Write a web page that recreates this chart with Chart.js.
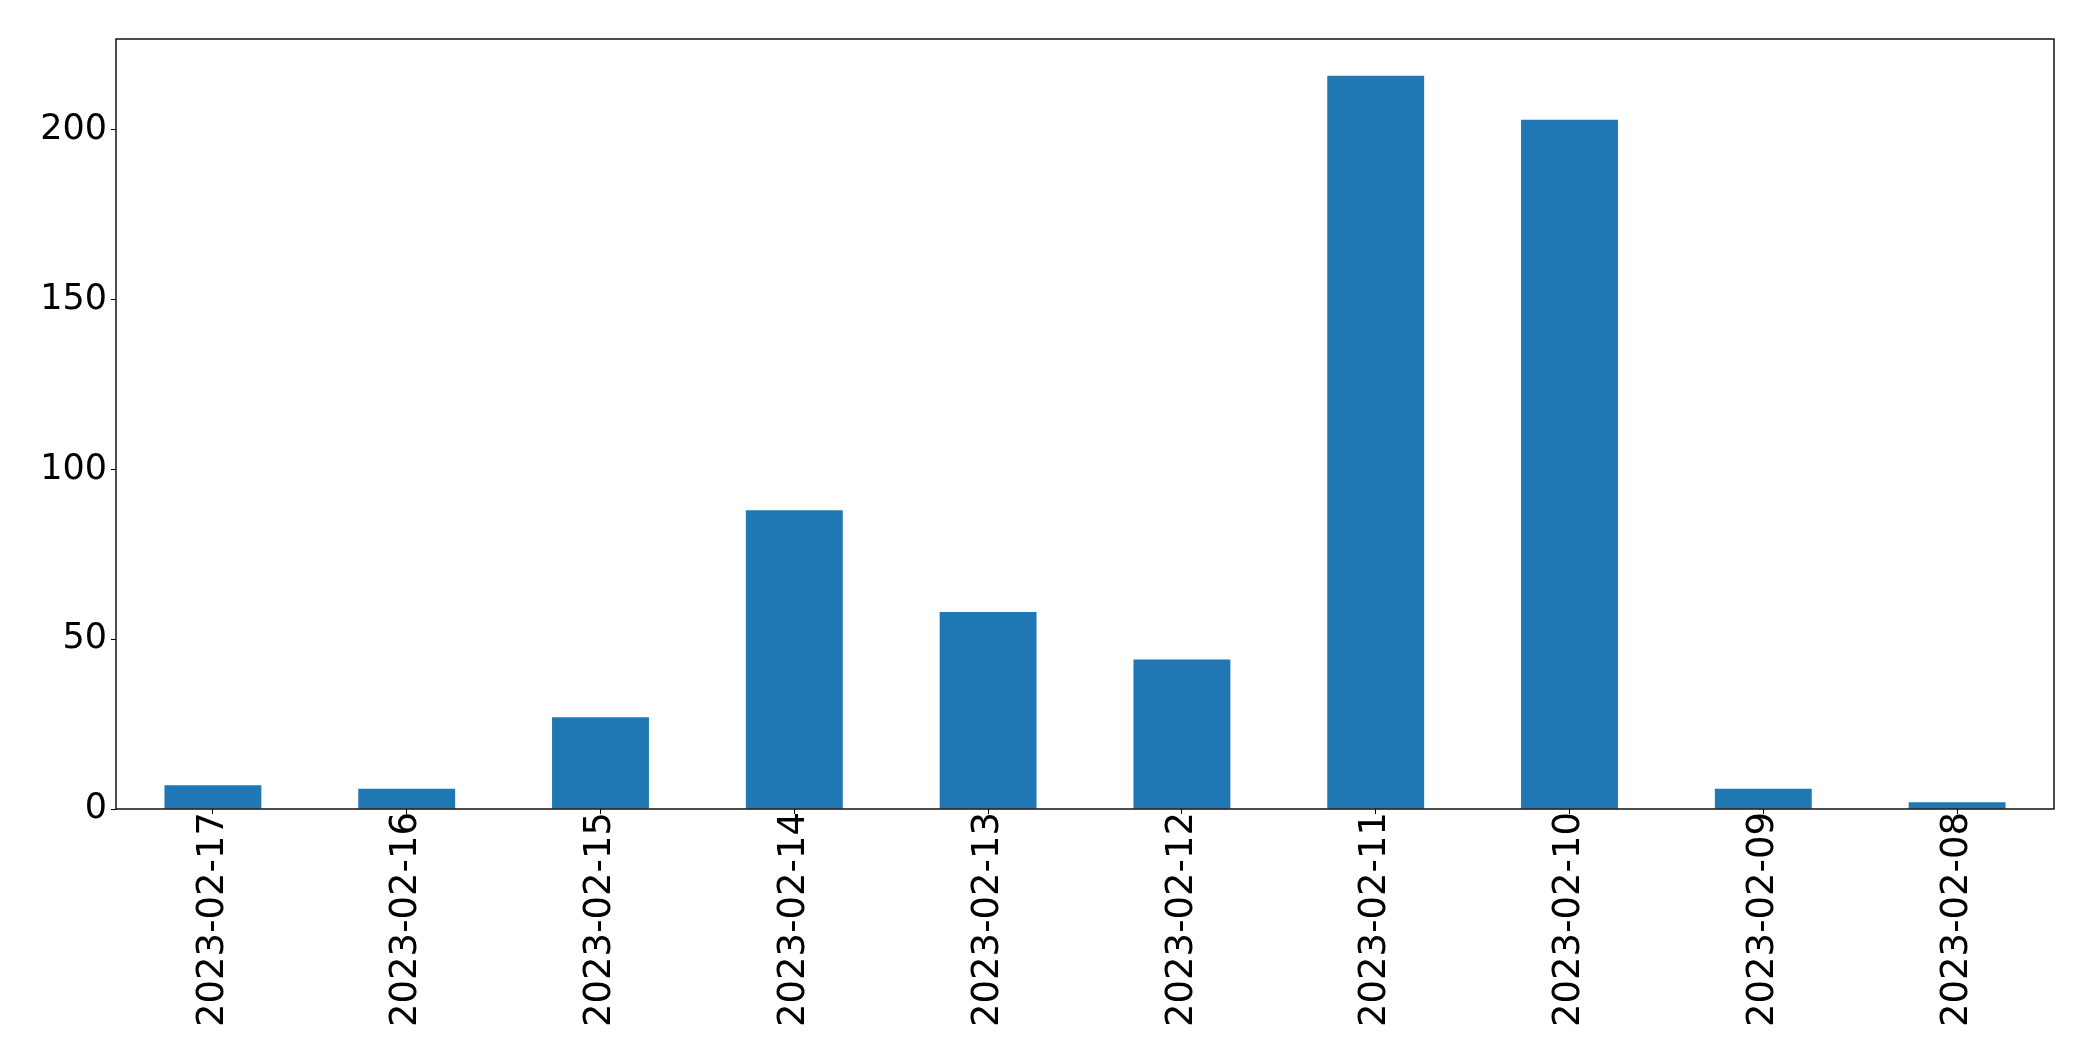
<!DOCTYPE html>
<html>
<head>
<meta charset="utf-8">
<script src="https://cdn.jsdelivr.net/npm/chart.js@4/dist/chart.umd.min.js"></script>
<style>
  html, body { margin: 0; padding: 0; background: #fff; }
  #wrap { width: 2093px; height: 1061px; position: relative; }
</style>
</head>
<body>
<div id="wrap"><canvas id="c" width="2093" height="1061"></canvas></div>
<script>
const categories = ["2023-02-17","2023-02-16","2023-02-15","2023-02-14","2023-02-13","2023-02-12","2023-02-11","2023-02-10","2023-02-09","2023-02-08"];
const counts = [7, 6, 27, 88, 58, 44, 216, 203, 6, 2];
const yTicks = [0, 50, 100, 150, 200];

const YFONT = { family: "'DejaVu Sans', sans-serif", size: 35 };
const XFONT = { family: "'DejaVu Sans', sans-serif", size: 37 };

const framePlugin = {
  id: 'frame',
  afterDraw(chart) {
    const a = chart.chartArea, ctx = chart.ctx;
    ctx.save();
    ctx.strokeStyle = '#000';
    ctx.lineWidth = 1.4;
    ctx.strokeRect(a.left, a.top, a.right - a.left, a.bottom - a.top);
    ctx.restore();
  }
};

new Chart(document.getElementById('c'), {
  type: 'bar',
  data: {
    labels: categories,
    datasets: [{
      data: counts,
      backgroundColor: '#1f77b4',
      borderWidth: 0,
      categoryPercentage: 1.0,
      barPercentage: 0.5
    }]
  },
  options: {
    responsive: false,
    animation: false,
    devicePixelRatio: 1,
    layout: { padding: { top: 39, right: 39, left: 0, bottom: 0 } },
    plugins: { legend: { display: false }, tooltip: { enabled: false } },
    scales: {
      x: {
        offset: true,
        grid: { display: true, drawOnChartArea: false, drawTicks: true, tickLength: 5, color: '#000', offset: false },
        border: { display: false },
        ticks: { font: XFONT, color: '#000', minRotation: 90, maxRotation: 90, padding: -2, autoSkip: false },
        afterFit(scale) { scale.height = 1061 - 809; }
      },
      y: {
        min: 0,
        max: Math.max(...counts) * 1.05,
        grid: { display: true, drawOnChartArea: false, drawTicks: true, tickLength: 5, color: '#000' },
        border: { display: false },
        ticks: { font: YFONT, color: '#000', padding: 4, stepSize: 50 },
        afterBuildTicks(scale) { scale.ticks = yTicks.map(v => ({ value: v })); },
        afterFit(scale) { scale.width = 116; }
      }
    }
  },
  plugins: [framePlugin]
});
</script>
</body>
</html>
